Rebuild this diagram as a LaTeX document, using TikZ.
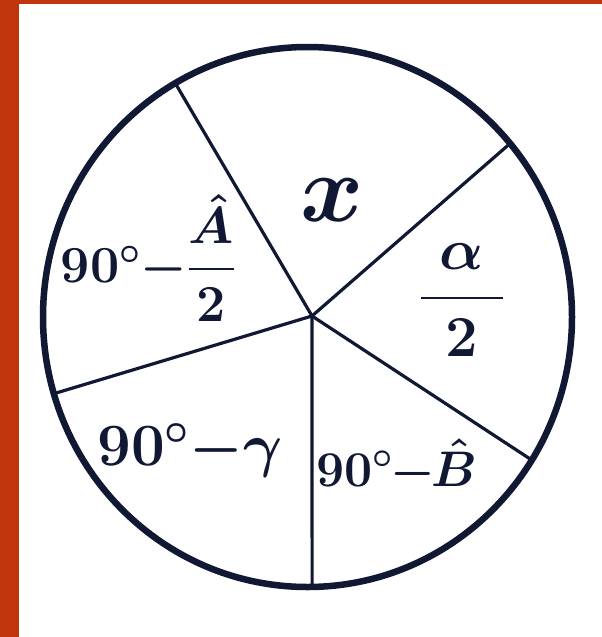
\RequirePackage{fix-cm}
\documentclass[tikz,border=0pt]{standalone}
\usepackage{amsmath,amssymb}
\usepackage{xcolor}
\usepackage{tikz}
\usetikzlibrary{calc}
\definecolor{Rust}{HTML}{BF360C}
\definecolor{Ink}{HTML}{101833}

\begin{document}
\begin{tikzpicture}[x=1pt,y=-1pt,
    rim/.style={draw=Ink,line width=6.5pt},
    spk/.style={draw=Ink,line width=3.2pt},
    lbl/.style={text=Ink,inner sep=0pt,font=\fontsize{#1}{#1}\selectfont\boldmath},
    lbl/.default=56]
  \useasboundingbox (0,0) rectangle (602,637);
  \fill[Rust] (0,0) rectangle (602,637);
  \fill[white] (19,4) rectangle (602,637);
  \coordinate (C) at (307.5,317);
  \coordinate (O) at (312,316);
  % spoke ends on the rim
  \coordinate (P1) at ($(C)+(120:264.5pt and 270pt)$);
  \coordinate (P2) at ($(C)+(40:264.5pt and 270pt)$);
  \coordinate (P3) at ($(C)+(328:264.5pt and 270pt)$);
  \coordinate (P4) at ($(C)+(271:264.5pt and 270pt)$);
  \coordinate (P5) at ($(C)+(196.5:264.5pt and 270pt)$);
  \foreach \p in {P1,P2,P3,P4,P5}
    \draw[spk] (O) -- (\p);
  \draw[rim] (C) ellipse [x radius=264.5pt,y radius=270pt];
  \node[lbl=96] (X) at (332,200) {$x$};
  \node[lbl=58] (Al) at (462,300) {$\dfrac{\;\alpha\;}{2}$};
  \node[lbl=52] (Ah) at (148,258) {$90^\circ{-}\dfrac{\hat{A}}{2}$};
  \node[lbl=60] (Ga) at (190,450) {$90^\circ{-}\gamma$};
  \node[lbl=50] (Bh) at (397,466) {$90^\circ\mkern-1mu{-}\mkern-1mu\hat{B}$};
\end{tikzpicture}
\end{document}
